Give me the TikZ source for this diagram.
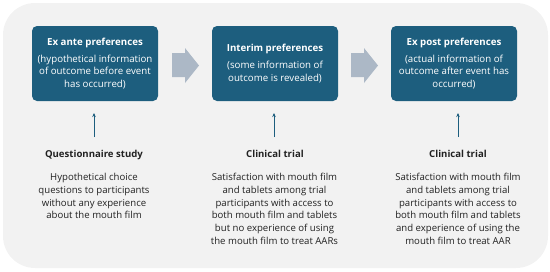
\documentclass[tikz,border=0pt]{standalone}
\usepackage{fontspec}
\setmainfont{Open Sans}
\usetikzlibrary{arrows.meta}
\definecolor{boxblue}{RGB}{29,94,126}
\definecolor{bggrey}{RGB}{242,242,242}
\definecolor{arrgrey}{RGB}{172,184,198}
\definecolor{txtdark}{RGB}{34,34,34}
\begin{document}
\begin{tikzpicture}[x=1pt,y=-1pt,
 stage/.style={fill=boxblue, text=white, rounded corners=5pt, minimum width=126pt, minimum height=75pt, align=center, inner sep=0pt, font=\fontsize{9.7}{12.5}\selectfont},
 head/.style={font=\fontsize{9.6}{10}\selectfont\bfseries, text=txtdark, inner sep=0pt, anchor=base},
 body/.style={font=\fontsize{9.6}{12.8}\selectfont, text=txtdark, align=center, anchor=north, inner sep=0pt},
 uparrow/.style={draw=boxblue, line width=0.9pt, -{Stealth[length=4pt,width=3.5pt]}},
 blockarrow/.style={fill=arrgrey}
]
\useasboundingbox (0,0) rectangle (550,271);
\fill[bggrey, rounded corners=32pt] (3,3) rectangle (548,268);

\node[stage] (b1) at (95,63.5) {\textbf{Ex ante preferences}\\[4.5pt](hypothetical information\\of outcome before event\\has occurred)};
\node[stage] (b2) at (275,63.5) {\textbf{Interim preferences}\\[4.5pt](some information of\\outcome is revealed)};
\node[stage] (b3) at (454,63.5) {\textbf{Ex post preferences}\\[4.5pt](actual information of\\outcome after event has\\occurred)};

\fill[blockarrow] (172,53) -- (185,53) -- (185,48) -- (199,65.5) -- (185,83) -- (185,77) -- (172,77) -- cycle;
\fill[blockarrow] (351,53) -- (364,53) -- (364,48) -- (378,65.5) -- (364,83) -- (364,77) -- (351,77) -- cycle;

\coordinate (s1) at (94,137);  \coordinate (e1) at (94,113);
\coordinate (s2) at (274,137); \coordinate (e2) at (274,113);
\coordinate (s3) at (458,137); \coordinate (e3) at (458,113);
\draw[uparrow] (s1) -- (e1);
\draw[uparrow] (s2) -- (e2);
\draw[uparrow] (s3) -- (e3);

\node[head] (h1) at (94,157) {Questionnaire study};
\node[head] (h2) at (275,157) {Clinical trial};
\node[head] (h3) at (458,157) {Clinical trial};

\node[body] (t1) at (94,173) {Hypothetical choice\\questions to participants\\without any experience\\about the mouth film};
\node[body] (t2) at (274.5,173) {Satisfaction with mouth film\\and tablets among trial\\participants with access to\\both mouth film and tablets\\but no experience of using\\the mouth film to treat AARs};
\node[body] (t3) at (458,173) {Satisfaction with mouth film\\and tablets among trial\\participants with access to\\both mouth film and tablets\\and experience of using the\\mouth film to treat AAR};
\end{tikzpicture}
\end{document}
